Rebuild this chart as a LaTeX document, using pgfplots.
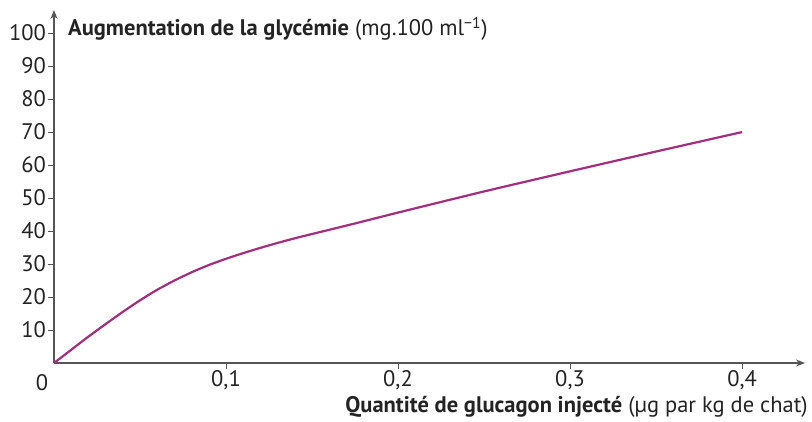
\documentclass[border=0pt]{standalone}
\usepackage{fontspec}
\setmainfont{PT Sans}
\usepackage{pgfplots}
\pgfplotsset{compat=1.18}
\usetikzlibrary{arrows.meta}
\definecolor{axisgray}{RGB}{85,85,85}
\definecolor{txt}{RGB}{35,35,35}
\definecolor{curve}{RGB}{165,45,125}
\begin{document}
\fontsize{22.5}{26}\selectfont
\begin{tikzpicture}
\begin{axis}[
  at={(0pt,0pt)}, anchor=origin,
  scale only axis,
  width=751pt, height=353pt,
  xmin=0, xmax=0.4366, ymin=0, ymax=107,
  axis lines=left,
  axis line style={draw=axisgray, line width=1.3pt, -{Stealth[length=9pt,width=7pt]}},
  xtick={0.1,0.2,0.3,0.4},
  ytick={10,20,30,40,50,60,70,80,90,100},
  tick align=outside,
  major tick length=6pt,
  tick style={draw=axisgray, line width=1pt},
  every tick label/.append style={font=\fontsize{22.5}{26}\selectfont, text=txt},
  /pgf/number format/assume math mode=true,
  xticklabel style={/pgf/number format/fixed, /pgf/number format/precision=1, /pgf/number format/use comma, inner sep=1pt},
  yticklabel style={inner sep=2pt},
  clip=false,
]
\addplot[curve, line width=2.2pt, smooth, tension=0.4] coordinates {
 (0,0) (0.01,4.0) (0.02,8.0) (0.03,11.8) (0.04,15.5) (0.05,19.0) (0.06,22.2)
 (0.07,25.0) (0.08,27.5) (0.09,29.7) (0.1,31.6) (0.11,33.3) (0.12,34.9)
 (0.13,36.4) (0.14,37.8) (0.15,39.1) (0.175,42.3) (0.2,45.6) (0.25,52.0)
 (0.3,58.1) (0.35,64.1) (0.4,70.0)
};
\end{axis}
\node[anchor=base, text=txt] at (-12pt,-27pt) {0};
\node[anchor=base west, text=txt, inner sep=0pt] at (14pt,327pt)
  {\textbf{Augmentation de la glycémie} (mg.100 ml\textsuperscript{−1})};
\node[anchor=base east, text=txt, inner sep=0pt] at (754pt,-49pt)
  {\textbf{Quantité de glucagon injecté} (µg par kg de chat)};
\pgfresetboundingbox
\path (-54pt,-58pt) rectangle (758pt,363pt);
\end{tikzpicture}
\end{document}
